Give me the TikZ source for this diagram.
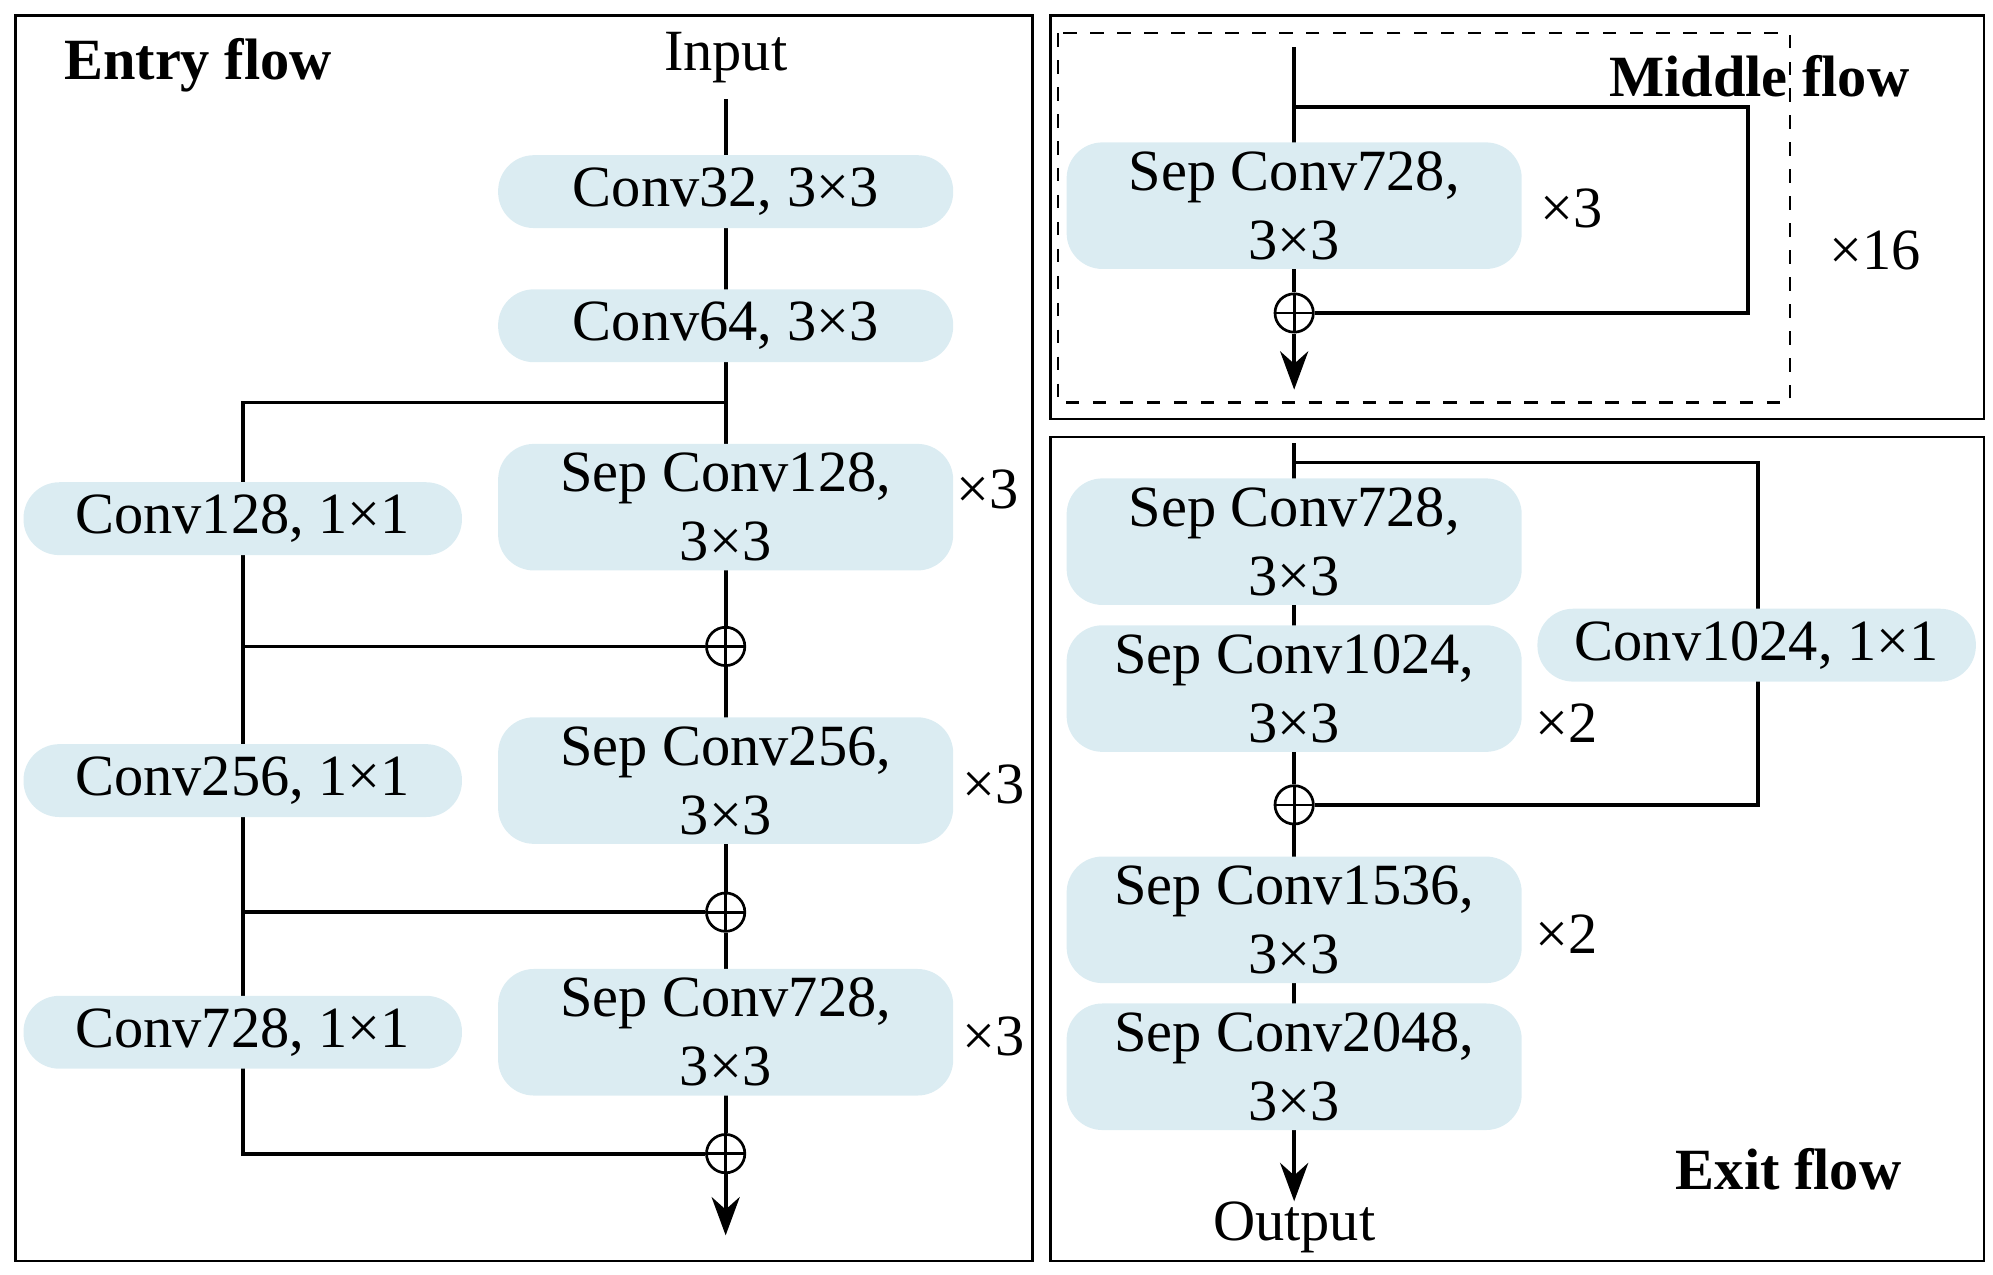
\documentclass[tikz,border=0pt]{standalone}
\usepackage{fontspec}
\setmainfont{Liberation Serif}
\usetikzlibrary{arrows.meta}
\definecolor{boxc}{RGB}{219,236,242}
\begin{document}
\begin{tikzpicture}[x=0.01cm,y=-0.01cm,
  box/.style={fill=boxc,rounded corners=0.28cm,inner sep=0pt,align=center,font=\fontsize{13}{15.4}\selectfont},
  sbox/.style={box,minimum width=3.56cm,minimum height=0.57cm},
  dbox/.style={box,minimum width=3.56cm,minimum height=0.99cm},
  cbox/.style={box,minimum width=3.43cm,minimum height=0.57cm},
  lbl/.style={font=\fontsize{13}{15.4}\selectfont,inner sep=0pt},
  ttl/.style={font=\fontsize{13}{15.4}\selectfont\bfseries,inner sep=0pt},
  ln/.style={line width=0.85pt},
  plus/.style={circle,draw,line width=0.6pt,minimum size=0.3cm,inner sep=0pt,fill=white,
    path picture={\draw[line width=0.6pt] (path picture bounding box.north)--(path picture bounding box.south) (path picture bounding box.west)--(path picture bounding box.east);}},
  arr/.style={ln,-{Stealth[length=0.3cm,width=0.22cm]}}]
\useasboundingbox (0,0) rectangle (1560,998);
\draw[line width=0.6pt] (12,12) rectangle (808,987);
\draw[line width=0.6pt] (822,12) rectangle (1553,328);
\draw[line width=0.6pt] (822,342) rectangle (1553,987);
\draw[line width=0.5pt,dashed] (828,26) rectangle (1401,315);
% Entry
\node[ttl] (t1) at (155,51) {Entry flow};
\node[lbl] (in) at (568,45) {Input};
\coordinate (br) at (568,315);
\coordinate (bl) at (190,315);
\node[plus] (p1) at (568,506) {};
\node[plus] (p2) at (568,714) {};
\node[plus] (p3) at (568,903) {};
\coordinate (l1) at (190,506);
\coordinate (l2) at (190,714);
\coordinate (l3) at (190,903);
\coordinate (eo) at (568,967);
\draw[ln] (in.south)+(0,12) -- (br);
\draw[ln] (br) -- (bl) -- (l3) -- (p3);
\draw[ln] (br) -- (p1) (l1) -- (p1) (p1) -- (p2) (l2) -- (p2) (p2) -- (p3);
\draw[arr] (p3) -- (eo);
\node[sbox] (c32) at (568,150) {Conv32, 3×3};
\node[sbox] (c64) at (568,255) {Conv64, 3×3};
\node[dbox] (s128) at (568,397) {Sep Conv128,\\3×3};
\node[dbox] (s256) at (568,611) {Sep Conv256,\\3×3};
\node[dbox] (s728) at (568,808) {Sep Conv728,\\3×3};
\node[cbox] (c128) at (190,406) {Conv128, 1×1};
\node[cbox] (c256) at (190,611) {Conv256, 1×1};
\node[cbox] (c728) at (190,808) {Conv728, 1×1};
\node[lbl] (x1) at (773,383) {×3};
\node[lbl] (x2) at (778,614) {×3};
\node[lbl] (x3) at (778,811) {×3};
% Middle
\node[ttl] (t2) at (1377,60) {Middle flow};
\coordinate (mt) at (1013,37);
\coordinate (mb) at (1013,84);
\coordinate (mr) at (1368,84);
\coordinate (mr2) at (1368,245);
\node[plus] (mp) at (1013,245) {};
\coordinate (mo) at (1013,305);
\draw[ln] (mt) -- (mp);
\draw[ln] (mb) -- (mr) -- (mr2) -- (mp);
\draw[arr] (mp) -- (mo);
\node[dbox] (ms) at (1013,161) {Sep Conv728,\\3×3};
\node[lbl] (mx) at (1230,163) {×3};
\node[lbl] (mx16) at (1468,196) {×16};
% Exit
\node[ttl] (t3) at (1400,915) {Exit flow};
\coordinate (et) at (1013,347);
\coordinate (eb) at (1013,362);
\coordinate (er) at (1376,362);
\coordinate (er2) at (1376,630);
\node[plus] (ep) at (1013,630) {};
\node[lbl] (out) at (1013,961) {Output};
\draw[ln] (et) -- (ep);
\draw[ln] (eb) -- (er) -- (er2) -- (ep);
\draw[ln] (ep) -- (1013,835);
\draw[arr] (1013,835) -- (out.north);
\node[cbox] (c1024) at (1375,505) {Conv1024, 1×1};
\node[dbox] (e728) at (1013,424) {Sep Conv728,\\3×3};
\node[dbox] (e1024) at (1013,539) {Sep Conv1024,\\3×3};
\node[dbox] (e1536) at (1013,720) {Sep Conv1536,\\3×3};
\node[dbox] (e2048) at (1013,835) {Sep Conv2048,\\3×3};
\node[lbl] (ex1) at (1226,566) {×2};
\node[lbl] (ex2) at (1226,731) {×2};
\end{tikzpicture}
\end{document}
